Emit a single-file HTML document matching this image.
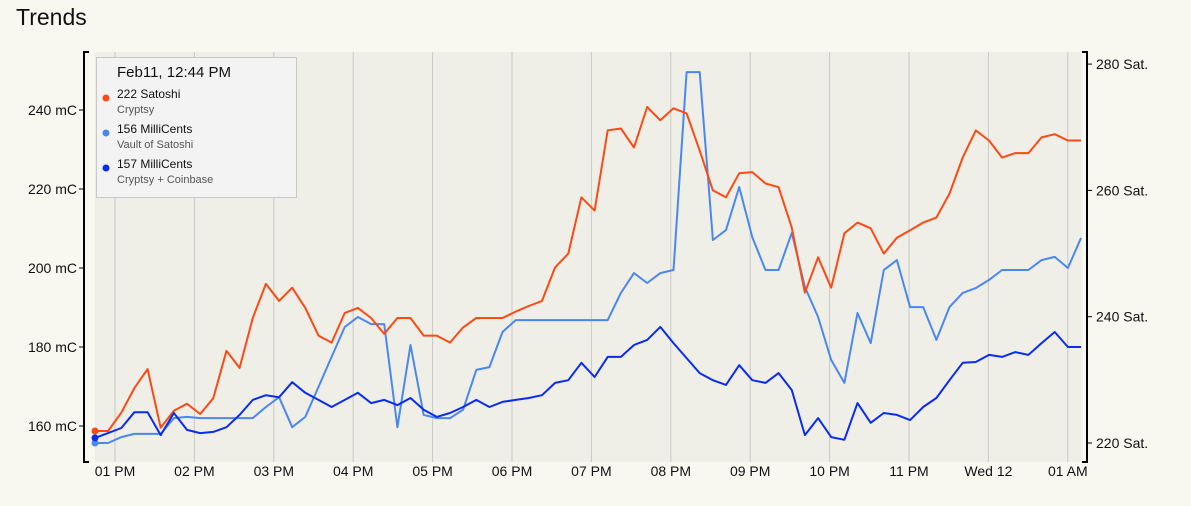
<!DOCTYPE html>
<html><head><meta charset="utf-8">
<style>
body{margin:0;background:#f9f8f0;font-family:"Liberation Sans",sans-serif;}
svg{display:block}
</style></head>
<body>
<svg id="chart" width="1191" height="506" viewBox="0 0 1191 506" xmlns="http://www.w3.org/2000/svg" font-family="Liberation Sans, sans-serif">
<rect x="0" y="0" width="1191" height="506" fill="#f9f8f0"/>
<text x="16" y="25" font-size="23" fill="#111">Trends</text>
<rect x="95" y="52" width="987" height="410" fill="#efeee7"/>
<g id="grid"></g>
<g id="axes"></g>
<g id="series"></g>
<g>
<rect x="96.5" y="57.5" width="200" height="140" fill="#f3f3f3" stroke="#c8c8c8"/>
<text x="117" y="77" font-size="15" fill="#111">Feb11, 12:44 PM</text>
<circle cx="106" cy="98" r="3.5" fill="#fb4a14"/>
<text x="117" y="98" font-size="12" fill="#111">222 Satoshi</text>
<text x="117" y="113" font-size="11" fill="#555">Cryptsy</text>
<circle cx="106" cy="133" r="3.5" fill="#4a88f0"/>
<text x="117" y="133" font-size="12" fill="#111">156 MilliCents</text>
<text x="117" y="148" font-size="11" fill="#555">Vault of Satoshi</text>
<circle cx="106" cy="168" r="3.5" fill="#0a2cf0"/>
<text x="117" y="168" font-size="12" fill="#111">157 MilliCents</text>
<text x="117" y="183" font-size="11" fill="#555">Cryptsy + Coinbase</text>
</g>
</svg>
<script>
const hourLabels=["01 PM","02 PM","03 PM","04 PM","05 PM","06 PM","07 PM","08 PM","09 PM","10 PM","11 PM","Wed 12","01 AM"];
const leftTicks=[160,180,200,220,240];
const rightTicks=[220,240,260,280];
const cryptsySat=[221.9,221.9,224.8,228.7,231.7,222.4,225.1,226.2,224.6,227.1,234.6,231.9,239.8,245.2,242.5,244.6,241.4,237,235.9,240.6,241.4,239.8,237.3,239.8,239.8,237,237,235.9,238.3,239.8,239.8,239.8,240.8,241.7,242.5,247.8,250,258.9,256.8,269.5,269.8,266.8,273.2,271.1,273,272.2,266.3,260,258.9,262.7,262.9,261.1,260.5,254.1,243.8,249.4,244.6,253.2,254.9,254,250,252.5,253.7,254.9,255.7,259.5,265.2,269.5,267.9,265.2,265.9,265.9,268.4,268.9,267.9,267.9];
const vaultMC=[155.7,155.7,157.2,158,158,158,162,162.3,162,162,162,162,162,164.8,167.3,159.7,162.3,169.9,177.5,185.1,187.6,185.8,185.8,159.7,180.5,162.8,162,162,164.1,174.2,174.9,183.8,186.8,186.8,186.8,186.8,186.8,186.8,186.8,186.8,193.7,198.7,196.2,198.7,199.5,249.6,249.6,207.1,209.6,220.5,207.8,199.5,199.5,208.9,195.2,187.6,176.7,170.9,188.6,181,199.5,202,190.1,190.1,181.8,190.1,193.7,194.9,197,199.5,199.5,199.5,202,202.8,200,207.6];
const coinbaseMC=[157,158.2,159.5,163.5,163.5,157.7,163.3,159,158.2,158.5,159.7,162.8,166.6,167.8,167.3,171.1,168.4,166.6,164.8,166.6,168.4,165.8,166.6,165.3,167.1,164.1,162.3,163.3,164.8,166.6,164.8,166.1,166.6,167.1,167.8,170.9,171.6,176,172.4,177.5,177.5,180.5,181.8,185.1,181,177.2,173.4,171.6,170.4,175.4,171.6,170.9,173.4,169.1,157.7,162,157.2,156.5,165.8,160.8,163.3,162.8,161.5,164.8,167.1,171.6,176,176.2,178,177.5,178.7,178,181,183.8,180,180];

const NS="http://www.w3.org/2000/svg";
const X0=95,X1=1081;
function xIdx(i,n){return X0+(X1-X0)*i/(n-1);}
function xHour(h){return 115+h*79.4;}
function yLeft(v){return 426-(v-160)*79/20;}
function yRight(v){return 443-(v-220)*126.3/20;}
function mk(tag,attrs,parent){const e=document.createElementNS(NS,tag);for(const k in attrs)e.setAttribute(k,attrs[k]);parent.appendChild(e);return e;}

const grid=document.getElementById('grid');
const axes=document.getElementById('axes');
hourLabels.forEach((lab,h)=>{
  const x=xHour(h);
  const g=mk('line',{x1:x,x2:x,y1:52,y2:462,stroke:'#c9c9c6','stroke-width':1},grid);
  
  
  const t=mk('text',{x:x,y:476,'font-size':14,'text-anchor':'middle',fill:'#111'},axes);
  t.textContent=lab;
  
  
});
// left axis
const la=mk('path',{d:'M89,52 H84 V462 H89',fill:'none',stroke:'#000','stroke-width':2},axes);


leftTicks.forEach(v=>{
  const y=yLeft(v);
  mk('line',{x1:79,x2:84,y1:y,y2:y,stroke:'#000','stroke-width':1},axes);
  const t=mk('text',{x:77,y:y+5,'font-size':14,'text-anchor':'end',fill:'#111'},axes);
  t.textContent=v+' mC';
  
  
});
const ra=mk('path',{d:'M1082,52 H1087 V462 H1082',fill:'none',stroke:'#000','stroke-width':2},axes);


rightTicks.forEach(v=>{
  const y=yRight(v);
  mk('line',{x1:1087,x2:1092,y1:y,y2:y,stroke:'#000','stroke-width':1},axes);
  const t=mk('text',{x:1096,y:y+5,'font-size':14,fill:'#111'},axes);
  t.textContent=v+' Sat.';
  
  
});

const series=document.getElementById('series');
function drawLine(vals,yf,color,name){
  const n=vals.length;
  const d=vals.map((v,i)=>(i?'L':'M')+xIdx(i,n).toFixed(1)+','+yf(v).toFixed(1)).join(' ');
  const p=mk('path',{d:d,fill:'none',stroke:color,'stroke-width':2,'stroke-linejoin':'round'},series);
  
  
  const c=mk('circle',{cx:xIdx(0,n),cy:yf(vals[0]),r:3.5,fill:color},series);
  
  
}
drawLine(vaultMC,yLeft,'#4a88f0','vault-of-satoshi');
drawLine(cryptsySat,yRight,'#fb4a14','cryptsy');
drawLine(coinbaseMC,yLeft,'#0a2cf0','cryptsy-coinbase');
</script>
</body></html>
